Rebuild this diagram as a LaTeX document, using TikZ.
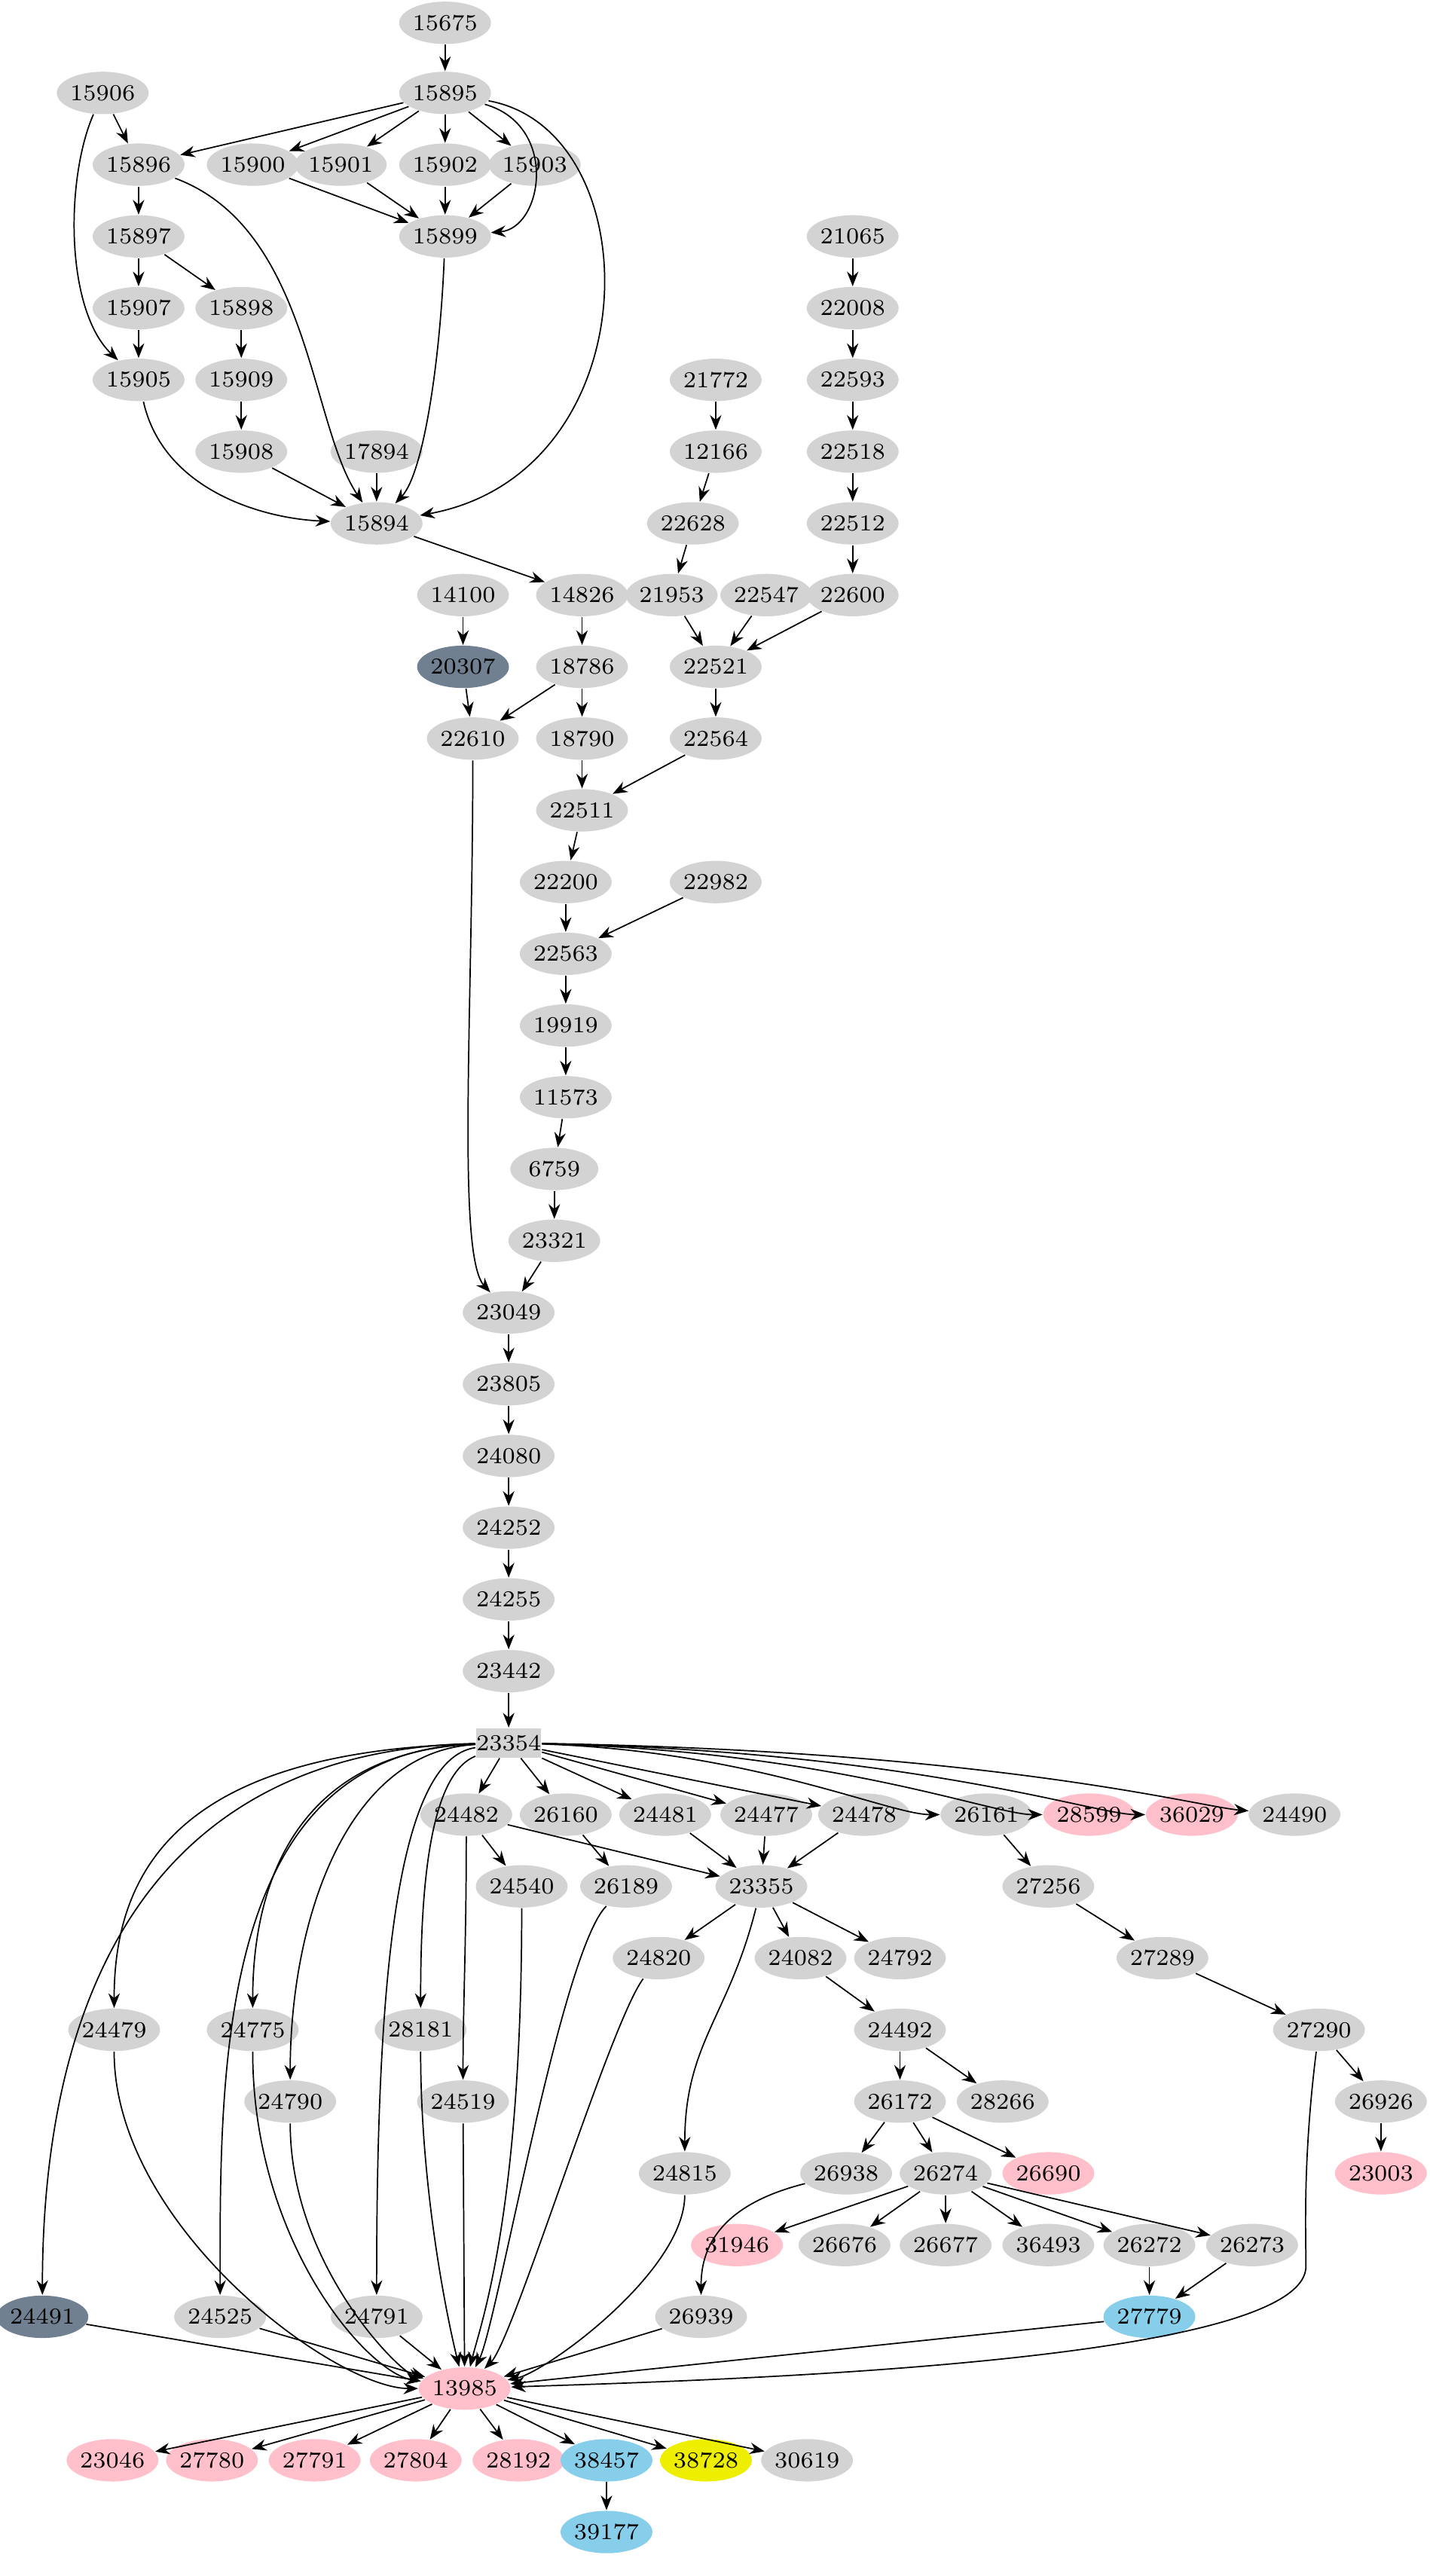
\documentclass[tikz,border=0pt]{standalone}
\usetikzlibrary{shapes.geometric,arrows.meta}
\definecolor{lg}{HTML}{D3D3D3}
\definecolor{pk}{HTML}{FFC0CB}
\definecolor{sb}{HTML}{87CEEB}
\definecolor{sg}{HTML}{708090}
\definecolor{yl}{HTML}{EEEE00}
\newcommand{\nd}[4][lg]{\node[nb,fill=#1] (n#2) at (#3,#4) {#2};}
\begin{document}
\begin{tikzpicture}[x=0.5pt,y=-0.5pt,
  nb/.style={ellipse,inner sep=0pt,minimum width=27pt,minimum height=13pt,font=\fontsize{7}{8}\selectfont},
  ed/.style={-{Stealth[length=4.5pt,width=3.5pt]},line width=0.4pt}]
\useasboundingbox (0,0) rectangle (877,1580);
\nd{15675}{273}{14}
\nd{15906}{63}{57}\nd{15895}{273}{57}
\nd{15896}{85}{101}\nd{15900}{155}{101}\nd{15901}{209}{101}\nd{15902}{273}{101}\nd{15903}{328}{101}
\nd{15899}{273}{145}\nd{21065}{523}{145}\nd{15897}{85}{145}
\nd{15907}{85}{189}\nd{15898}{148}{189}\nd{22008}{523}{189}
\nd{15905}{85}{233}\nd{15909}{148}{233}\nd{21772}{439}{233}\nd{22593}{523}{233}
\nd{15908}{148}{277}\nd{17894}{231}{277}\nd{12166}{439}{277}\nd{22518}{523}{277}
\nd{15894}{231}{321}\nd{22628}{425}{321}\nd{22512}{523}{321}
\nd{14100}{284}{365}\nd{14826}{357}{365}\nd{21953}{412}{365}\nd{22547}{470}{365}\nd{22600}{523}{365}
\nd[sg]{20307}{284}{409}\nd{18786}{357}{409}\nd{22521}{439}{409}
\nd{22610}{290}{453}\nd{18790}{357}{453}\nd{22564}{439}{453}
\nd{22511}{357}{497}
\nd{22200}{347}{541}\nd{22982}{439}{541}
\nd{22563}{347}{585}\nd{19919}{347}{629}\nd{11573}{347}{673}\nd{6759}{340}{717}\nd{23321}{340}{761}
\nd{23049}{312}{805}\nd{23805}{312}{849}\nd{24080}{312}{893}\nd{24252}{312}{937}\nd{24255}{312}{981}\nd{23442}{312}{1025}
\node[nb,rectangle,fill=lg,minimum width=20pt,minimum height=9pt] (n23354) at (312,1069) {23354};
\nd{24482}{286}{1113}\nd{26160}{347}{1113}\nd{24481}{408}{1113}\nd{24477}{470}{1113}\nd{24478}{530}{1113}\nd{26161}{605}{1113}\nd[pk]{28599}{668}{1113}\nd[pk]{36029}{731}{1113}\nd{24490}{794}{1113}
\nd{24540}{320}{1157}\nd{26189}{384}{1157}\nd{23355}{467}{1157}\nd{27256}{643}{1157}
\nd{24820}{404}{1201}\nd{24082}{491}{1201}\nd{24792}{552}{1201}\nd{27289}{713}{1201}
\nd{24479}{70}{1245}\nd{24775}{155}{1245}\nd{28181}{258}{1245}\nd{24492}{552}{1245}\nd{27290}{809}{1245}
\nd{24790}{178}{1289}\nd{24519}{284}{1289}\nd{28266}{615}{1289}\nd{26172}{552}{1289}\nd{26926}{847}{1289}
\nd{24815}{420}{1333}\nd{26938}{519}{1333}\nd{26274}{580}{1333}\nd[pk]{26690}{643}{1333}\nd[pk]{23003}{847}{1333}
\nd[pk]{31946}{452}{1377}\nd{26676}{518}{1377}\nd{26677}{580}{1377}\nd{36493}{643}{1377}\nd{26272}{705}{1377}\nd{26273}{768}{1377}
\nd[sg]{24491}{26}{1421}\nd{24525}{135}{1421}\nd{24791}{231}{1421}\nd{26939}{430}{1421}\nd[sb]{27779}{705}{1421}
\nd[pk]{13985}{285}{1465}
\nd[pk]{23046}{69}{1509}\nd[pk]{27780}{130}{1509}\nd[pk]{27791}{193}{1509}\nd[pk]{27804}{255}{1509}\nd[pk]{28192}{318}{1509}\nd[sb]{38457}{372}{1509}\nd[yl]{38728}{433}{1509}\nd{30619}{495}{1509}
\nd[sb]{39177}{372}{1553}
% edges
\foreach \a/\b in {15675/15895,15906/15896,15895/15896,15895/15900,15895/15901,15895/15902,15895/15903,
15900/15899,15901/15899,15902/15899,15903/15899,15896/15897,15897/15907,15897/15898,15907/15905,
15898/15909,15909/15908,15908/15894,17894/15894,15894/14826,
21065/22008,22008/22593,22593/22518,22518/22512,22512/22600,22600/22521,21772/12166,12166/22628,22628/21953,21953/22521,22547/22521,
14100/20307,20307/22610,14826/18786,18786/22610,18786/18790,18790/22511,22521/22564,22564/22511,
22511/22200,22200/22563,22982/22563,22563/19919,19919/11573,11573/6759,6759/23321,23321/23049,23049/23805,23805/24080,24080/24252,24252/24255,24255/23442,23442/23354,
23354/24482,23354/26160,23354/24481,23354/24477,23354/24478,
24482/24540,24482/23355,26160/26189,24481/23355,24477/23355,24478/23355,26161/27256,27256/27289,27289/27290,27290/26926,26926/23003,
23355/24820,23355/24082,23355/24792,24082/24492,24492/26172,24492/28266,26172/26938,26172/26274,26172/26690,
26274/31946,26274/26676,26274/26677,26274/36493,26274/26272,26274/26273,26272/27779,26273/27779,
24491/13985,24525/13985,24791/13985,26939/13985,27779/13985,
13985/23046,13985/27780,13985/27791,13985/27804,13985/28192,13985/38457,13985/38728,13985/30619,38457/39177}
  \draw[ed] (n\a) -- (n\b);
% curved
\draw[ed] (n15906) .. controls (40,110) and (40,190) .. (n15905);
\draw[ed] (n15895) .. controls +(70,20) and +(60,-5) .. (n15899);
\draw[ed] (n15895) .. controls (400,80) and (400,290) .. (n15894);
\draw[ed] (n15896) .. controls (190,140) and (190,260) .. (n15894);
\draw[ed] (n15905) .. controls (100,300) and (160,318) .. (n15894);
\draw[ed] (n15899) .. controls (270,220) and (260,290) .. (n15894);
\draw[ed] (n22610) .. controls (290,620) and (280,770) .. (n23049);
\draw[ed] (n23354) .. controls +(150,5) and +(-60,0) .. (n26161);
\draw[ed] (n23354) .. controls +(200,5) and +(-60,0) .. (n28599);
\draw[ed] (n23354) .. controls +(250,5) and +(-60,0) .. (n36029);
\draw[ed] (n23354) .. controls +(300,5) and +(-60,-5) .. (n24490);
\draw[ed] (n23354) .. controls +(-250,5) and +(0,-150) .. (n24491);
\draw[ed] (n23354) .. controls +(-200,5) and +(0,-100) .. (n24479);
\draw[ed] (n23354) .. controls +(-180,5) and +(0,-150) .. (n24525);
\draw[ed] (n23354) .. controls +(-130,5) and +(0,-90) .. (n24775);
\draw[ed] (n23354) .. controls +(-100,5) and +(0,-110) .. (n24790);
\draw[ed] (n23354) .. controls +(-70,10) and +(0,-200) .. (n24791);
\draw[ed] (n23354) .. controls +(-50,20) and +(0,-80) .. (n28181);
\draw[ed] (n24482) .. controls +(0,80) and +(0,-60) .. (n24519);
\draw[ed] (n23355) .. controls +(-20,80) and +(0,-80) .. (n24815);
\draw[ed] (n26938) .. controls +(-80,20) and +(0,-40) .. (n26939);
\draw[ed] (n24479) .. controls +(0,120) and +(-80,0) .. (n13985);
\draw[ed] (n24775) .. controls +(0,130) and +(-60,-10) .. (n13985);
\draw[ed] (n24790) .. controls +(0,100) and +(-40,-10) .. (n13985);
\draw[ed] (n28181) .. controls +(0,100) and +(-10,-40) .. (n13985);
\draw[ed] (n24519) -- (n13985);
\draw[ed] (n24540) .. controls +(0,200) and +(10,-40) .. (n13985);
\draw[ed] (n26189) .. controls +(-40,40) and +(20,-40) .. (n13985);
\draw[ed] (n24820) .. controls +(-30,40) and +(30,-30) .. (n13985);
\draw[ed] (n24815) .. controls +(0,60) and +(50,-10) .. (n13985);
\draw[ed] (n27290) .. controls +(-10,80) and +(0,-20) .. (801,1390) .. controls +(0,60) and +(150,-5) .. (n13985);
\end{tikzpicture}
\end{document}
